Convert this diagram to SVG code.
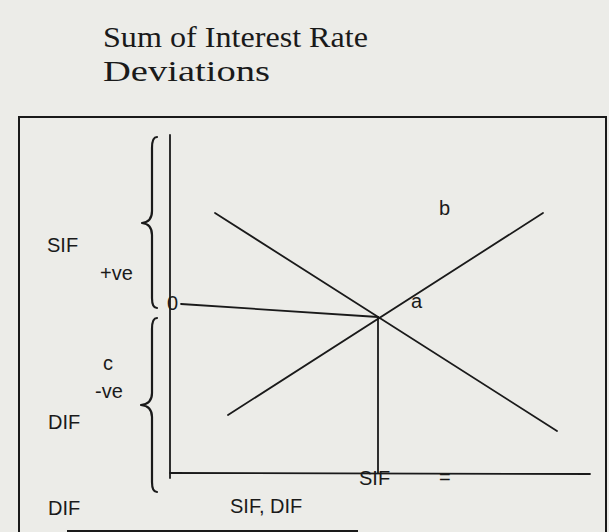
<svg xmlns="http://www.w3.org/2000/svg" width="609" height="532" viewBox="0 0 609 532">
<style>
.ln{stroke:#1a1a1a;stroke-width:1.8;fill:none;stroke-linecap:round}
.fr{stroke:#1a1a1a;stroke-width:2;fill:none}
.br{stroke:#1a1a1a;stroke-width:2.2;fill:none;stroke-linejoin:round;stroke-linecap:round}
.t{font-family:"Liberation Sans",Arial,sans-serif;font-size:20px;fill:#1a1a1a}
.ttl{font-family:"Liberation Serif","Times New Roman",serif;font-size:29px;fill:#1a1a1a}
</style>
<rect width="609" height="532" fill="#ecece8"/>
<g id="title">
<text class="ttl" x="103" y="47" textLength="265" lengthAdjust="spacingAndGlyphs">Sum of Interest Rate</text>
<text class="ttl" x="103" y="81" textLength="167" lengthAdjust="spacingAndGlyphs">Deviations</text>
</g>
<g id="frame">
<path class="fr" d="M19,532 L19,117 L606,117 L606,532"/>
<path class="fr" d="M67,531 L358,531" stroke-width="2.5"/>
</g>
<g id="braces">
<path class="br" d="M157,137 Q152,137 152,148 L152,211 Q152,222 142,223 Q152,224 152,235 L152,298 Q152,308 157,308"/>
<path class="br" d="M157,318 Q152,318 152,329 L152,393 Q152,404 141,405 Q152,406 152,417 L152,482 Q152,492 157,492"/>
</g>
<g id="axes">
<path class="ln" d="M170,135 L170,478"/>
<path class="ln" d="M170,473 L590,474"/>
</g>
<g id="connectors">
<path class="ln" d="M215,213 L557,431"/>
<path class="ln" d="M228,415 L543,213"/>
<path class="ln" d="M181,304 L378,317"/>
<path class="ln" d="M378,317 L378,473"/>
</g>
<g id="labels">
<text class="t" x="47" y="252">SIF</text>
<text class="t" x="100" y="280">+ve</text>
<text class="t" x="103" y="370">c</text>
<text class="t" x="95" y="398">-ve</text>
<text class="t" x="48" y="429">DIF</text>
<text class="t" x="48" y="515">DIF</text>
<text class="t" x="230" y="513">SIF, DIF</text>
<text class="t" x="439" y="215">b</text>
<text class="t" x="411" y="308">a</text>
<text class="t" x="167" y="310" font-size="18">0</text>
<text class="t" x="359" y="485" font-size="19">SIF</text>
<text class="t" x="439" y="484">=</text>
</g>
</svg>
